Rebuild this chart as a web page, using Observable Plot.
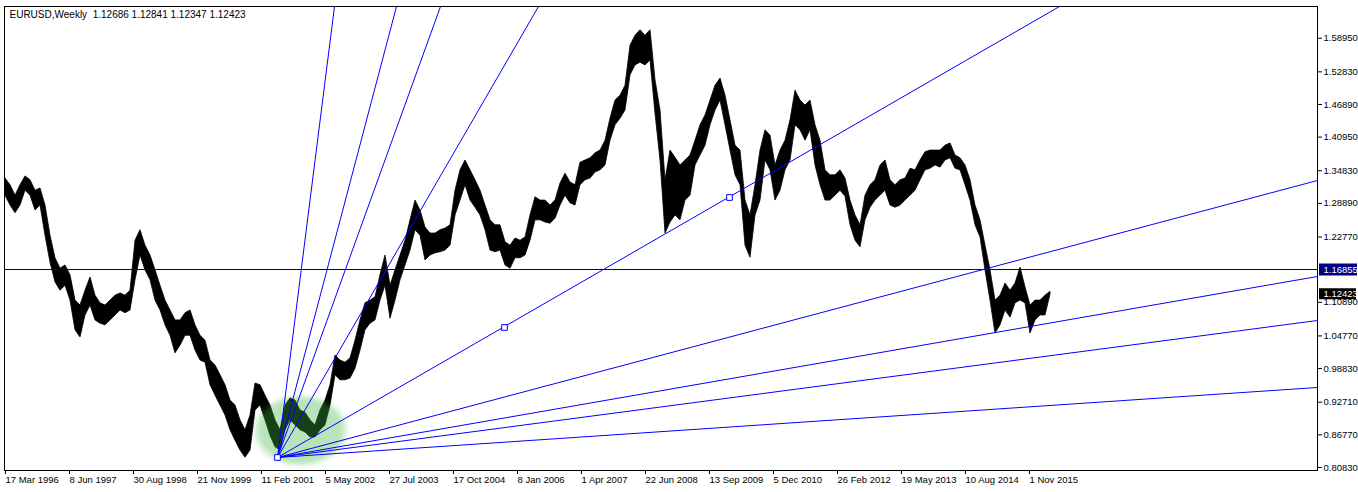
<!DOCTYPE html>
<html><head><meta charset="utf-8">
<script src="https://cdn.jsdelivr.net/npm/d3@7"></script>
<script src="https://cdn.jsdelivr.net/npm/@observablehq/plot@0.6"></script>
<style>html,body{margin:0;padding:0;background:#fff;} #chart svg{display:block;}</style>
</head><body><div id="chart"></div>
<script>
// ---- chart data ----
const symbol = "EURUSD";
const period = "Weekly";
const ohlc = [1.12686, 1.12841, 1.12347, 1.12423];
const xDomain = ["1996-03-17", "2021-05-16"];
const yDomain = [0.8028, 1.6472];
const xTickDates = ["1996-03-17","1997-06-08","1998-08-30","1999-11-21","2001-02-11","2002-05-05","2003-07-27","2004-10-17","2006-01-08","2007-04-01","2008-06-22","2009-09-13","2010-12-05","2012-02-26","2013-05-19","2014-08-10","2015-11-01"];
const yTickValues = [1.58950,1.52830,1.46890,1.40950,1.34830,1.28890,1.22770,1.10890,1.04770,0.98830,0.92710,0.86770,0.80830];
const hLineLevel = [1.16855];
const lastPrice = [ohlc[3]];

// weekly price envelope sampled every 5 weeks
const sampleStart = "1996-03-24";
const sampleStepWeeks = 5;
const highs = [
1.334,1.322,1.303,1.322,1.338,1.331,1.312,1.316,1.285,1.230,
1.189,1.170,1.176,1.158,1.112,1.103,1.130,1.154,1.121,1.107,
1.103,1.112,1.121,1.125,1.121,1.130,1.221,1.240,1.212,1.194,
1.167,1.139,1.112,1.094,1.076,1.076,1.089,1.094,1.067,1.048,
1.039,1.003,0.994,0.976,0.958,0.930,0.921,0.894,0.876,0.903,
0.961,0.958,0.939,0.921,0.894,0.876,0.921,0.934,0.930,0.912,
0.908,0.894,0.885,0.912,0.930,0.958,1.012,1.003,0.999,1.007,
1.039,1.076,1.107,1.112,1.118,1.158,1.194,1.139,1.167,1.194,
1.221,1.258,1.294,1.276,1.245,1.234,1.234,1.240,1.243,1.249,
1.312,1.349,1.367,1.349,1.331,1.312,1.285,1.258,1.249,1.249,
1.218,1.212,1.225,1.221,1.227,1.267,1.300,1.294,1.294,1.285,
1.294,1.325,1.343,1.327,1.322,1.363,1.367,1.371,1.380,1.385,
1.403,1.443,1.476,1.485,1.503,1.576,1.594,1.604,1.594,1.604,
1.513,1.458,1.331,1.385,1.372,1.358,1.367,1.376,1.403,1.431,
1.449,1.476,1.503,1.516,1.485,1.440,1.394,1.385,1.294,1.267,
1.322,1.385,1.422,1.412,1.358,1.385,1.403,1.440,1.494,1.476,
1.467,1.476,1.431,1.403,1.349,1.340,1.340,1.349,1.334,1.294,
1.267,1.249,1.303,1.322,1.331,1.358,1.367,1.331,1.322,1.331,
1.334,1.352,1.349,1.367,1.382,1.385,1.385,1.385,1.394,1.398,
1.376,1.371,1.358,1.331,1.285,1.258,1.212,1.167,1.112,1.121,
1.143,1.130,1.143,1.172,1.136,1.103,1.112,1.112,1.121,1.128];
const lows = [
1.303,1.285,1.271,1.285,1.312,1.303,1.276,1.285,1.230,1.181,
1.145,1.130,1.139,1.112,1.058,1.045,1.085,1.103,1.076,1.070,
1.067,1.076,1.085,1.094,1.089,1.094,1.149,1.194,1.167,1.149,
1.112,1.094,1.067,1.048,1.016,1.030,1.048,1.048,1.021,1.003,
0.999,0.958,0.939,0.921,0.903,0.876,0.857,0.839,0.826,0.839,
0.912,0.921,0.894,0.866,0.845,0.839,0.876,0.894,0.885,0.876,
0.872,0.863,0.863,0.876,0.885,0.921,0.976,0.967,0.967,0.970,
0.988,1.021,1.058,1.070,1.076,1.112,1.139,1.079,1.112,1.149,
1.176,1.203,1.240,1.230,1.185,1.194,1.198,1.200,1.203,1.212,
1.267,1.294,1.322,1.294,1.281,1.267,1.240,1.203,1.200,1.203,
1.176,1.170,1.189,1.189,1.194,1.221,1.258,1.258,1.254,1.252,
1.261,1.285,1.303,1.289,1.285,1.322,1.331,1.334,1.345,1.349,
1.358,1.403,1.431,1.443,1.458,1.522,1.540,1.545,1.540,1.549,
1.452,1.367,1.234,1.254,1.267,1.258,1.294,1.303,1.358,1.376,
1.394,1.431,1.458,1.476,1.431,1.385,1.340,1.322,1.212,1.190,
1.267,1.294,1.367,1.349,1.294,1.312,1.349,1.367,1.431,1.422,
1.403,1.422,1.358,1.322,1.294,1.294,1.303,1.312,1.301,1.249,
1.221,1.209,1.258,1.281,1.294,1.303,1.312,1.285,1.281,1.285,
1.294,1.303,1.312,1.331,1.349,1.352,1.358,1.354,1.367,1.371,
1.352,1.349,1.322,1.294,1.249,1.227,1.167,1.112,1.052,1.067,
1.094,1.081,1.107,1.112,1.107,1.052,1.076,1.085,1.085,1.123];

// Gann fan: origin and the point where each ray leaves the frame
const fanOriginDate = "2001-06-10";
const fanOriginPrice = 0.8265;
const fanEndDates  = ["2002-07-14","2003-09-21","2004-07-25","2006-06-11","2016-06-05","2021-05-16","2021-05-16","2021-05-16","2021-05-16"];
const fanEndPrices = [1.6472,1.6472,1.6472,1.6472,1.6472,1.3306,1.1559,1.0758,0.9539];
// anchor squares
const anchorDates  = ["2001-06-10","2005-10-16","2010-02-07"];
const anchorPrices = [0.8265,1.0631,1.2996];
// highlighted zone
const highlightDate = ["2001-11-18"];
const highlightPrice = [0.8756];

// ---- build tables ----
const D = s => new Date(s + "T00:00:00Z");
const series = highs.map((h, i) => ({date: d3.utcWeek.offset(D(sampleStart), i * sampleStepWeeks), hi: h, lo: lows[i]}));
const fan = fanEndDates.map((d, i) => ({x1: D(fanOriginDate), y1: fanOriginPrice, x2: D(d), y2: fanEndPrices[i]}));
const anchors = anchorDates.map((d, i) => ({date: D(d), price: anchorPrices[i]}));
const highlight = highlightDate.map((d, i) => ({date: D(d), price: highlightPrice[i]}));
const fmtDate = d3.utcFormat("%-d %b %Y");
const title = `${symbol},${period}\u00a0 ${ohlc.map(v => v.toFixed(5)).join(" ")}`;

const W = 1358, H = 492, mL = 4, mR = 41, mT = 6, mB = 22;
const plotW = W - mL - mR;
const GREEN = "#3cb43c";

const chart = Plot.plot({
  width: W, height: H,
  marginLeft: mL, marginRight: mR, marginTop: mT, marginBottom: mB,
  style: {fontFamily: "'Liberation Sans', Arial, sans-serif", fontSize: "9.5px", color: "#000", background: "#fff"},
  x: {type: "utc", domain: xDomain.map(D)},
  y: {domain: yDomain},
  marks: [
    Plot.areaY(series, {x: "date", y1: "lo", y2: "hi", fill: "#000", stroke: "#000", strokeWidth: 0.8}),
    Plot.dot(highlight, {x: "date", y: "price", r: 34, fill: GREEN, fillOpacity: 0.36, stroke: "none"}),
    Plot.ruleY(hLineLevel, {stroke: "#000080", strokeWidth: 1, shapeRendering: "crispEdges"}),
    Plot.link(fan, {x1: "x1", y1: "y1", x2: "x2", y2: "y2", stroke: "#0000ff", strokeWidth: 1}),
    Plot.dot(anchors, {x: "date", y: "price", symbol: "square", r: 3.2, stroke: "#0000ff", fill: "#fff", strokeWidth: 1}),
    Plot.frame({stroke: "#000"}),
    Plot.axisX({ticks: xTickDates.map(D), tickFormat: fmtDate, tickSize: 4, tickPadding: 2, textAnchor: "start", dx: 1, anchor: "bottom", label: null}),
    Plot.axisY({anchor: "right", ticks: yTickValues, tickFormat: d => d.toFixed(5), tickSize: 4, tickPadding: 2, label: null}),
    Plot.ruleY(hLineLevel, {stroke: "#000080", strokeWidth: 12, insetLeft: plotW + 2, insetRight: -(mR - 1)}),
    Plot.text(hLineLevel, {y: d => d, frameAnchor: "right", dx: 6, textAnchor: "start", fill: "#fff", text: d => d.toFixed(5)}),
    Plot.ruleY(lastPrice, {stroke: "#000", strokeWidth: 11, insetLeft: plotW + 2, insetRight: -(mR - 2)}),
    Plot.text(lastPrice, {y: d => d, frameAnchor: "right", dx: 6, textAnchor: "start", fill: "#fff", text: d => d.toFixed(5)}),
    Plot.text([title], {frameAnchor: "top-left", dx: 5, dy: 4, textAnchor: "start", lineAnchor: "top", fill: "#000", fontSize: 10})
  ]
});

// turn the round highlight into a soft ellipse
d3.select(chart).selectAll(`g[fill="${GREEN}"] circle`).each(function() {
  const c = d3.select(this);
  const cx = +c.attr("cx"), cy = +c.attr("cy");
  c.attr("transform", `translate(${cx},${cy}) scale(1.32,1) translate(${-cx},${-cy})`)
   .style("filter", "blur(2.5px)");
});
document.getElementById("chart").appendChild(chart);
</script>
</body></html>
